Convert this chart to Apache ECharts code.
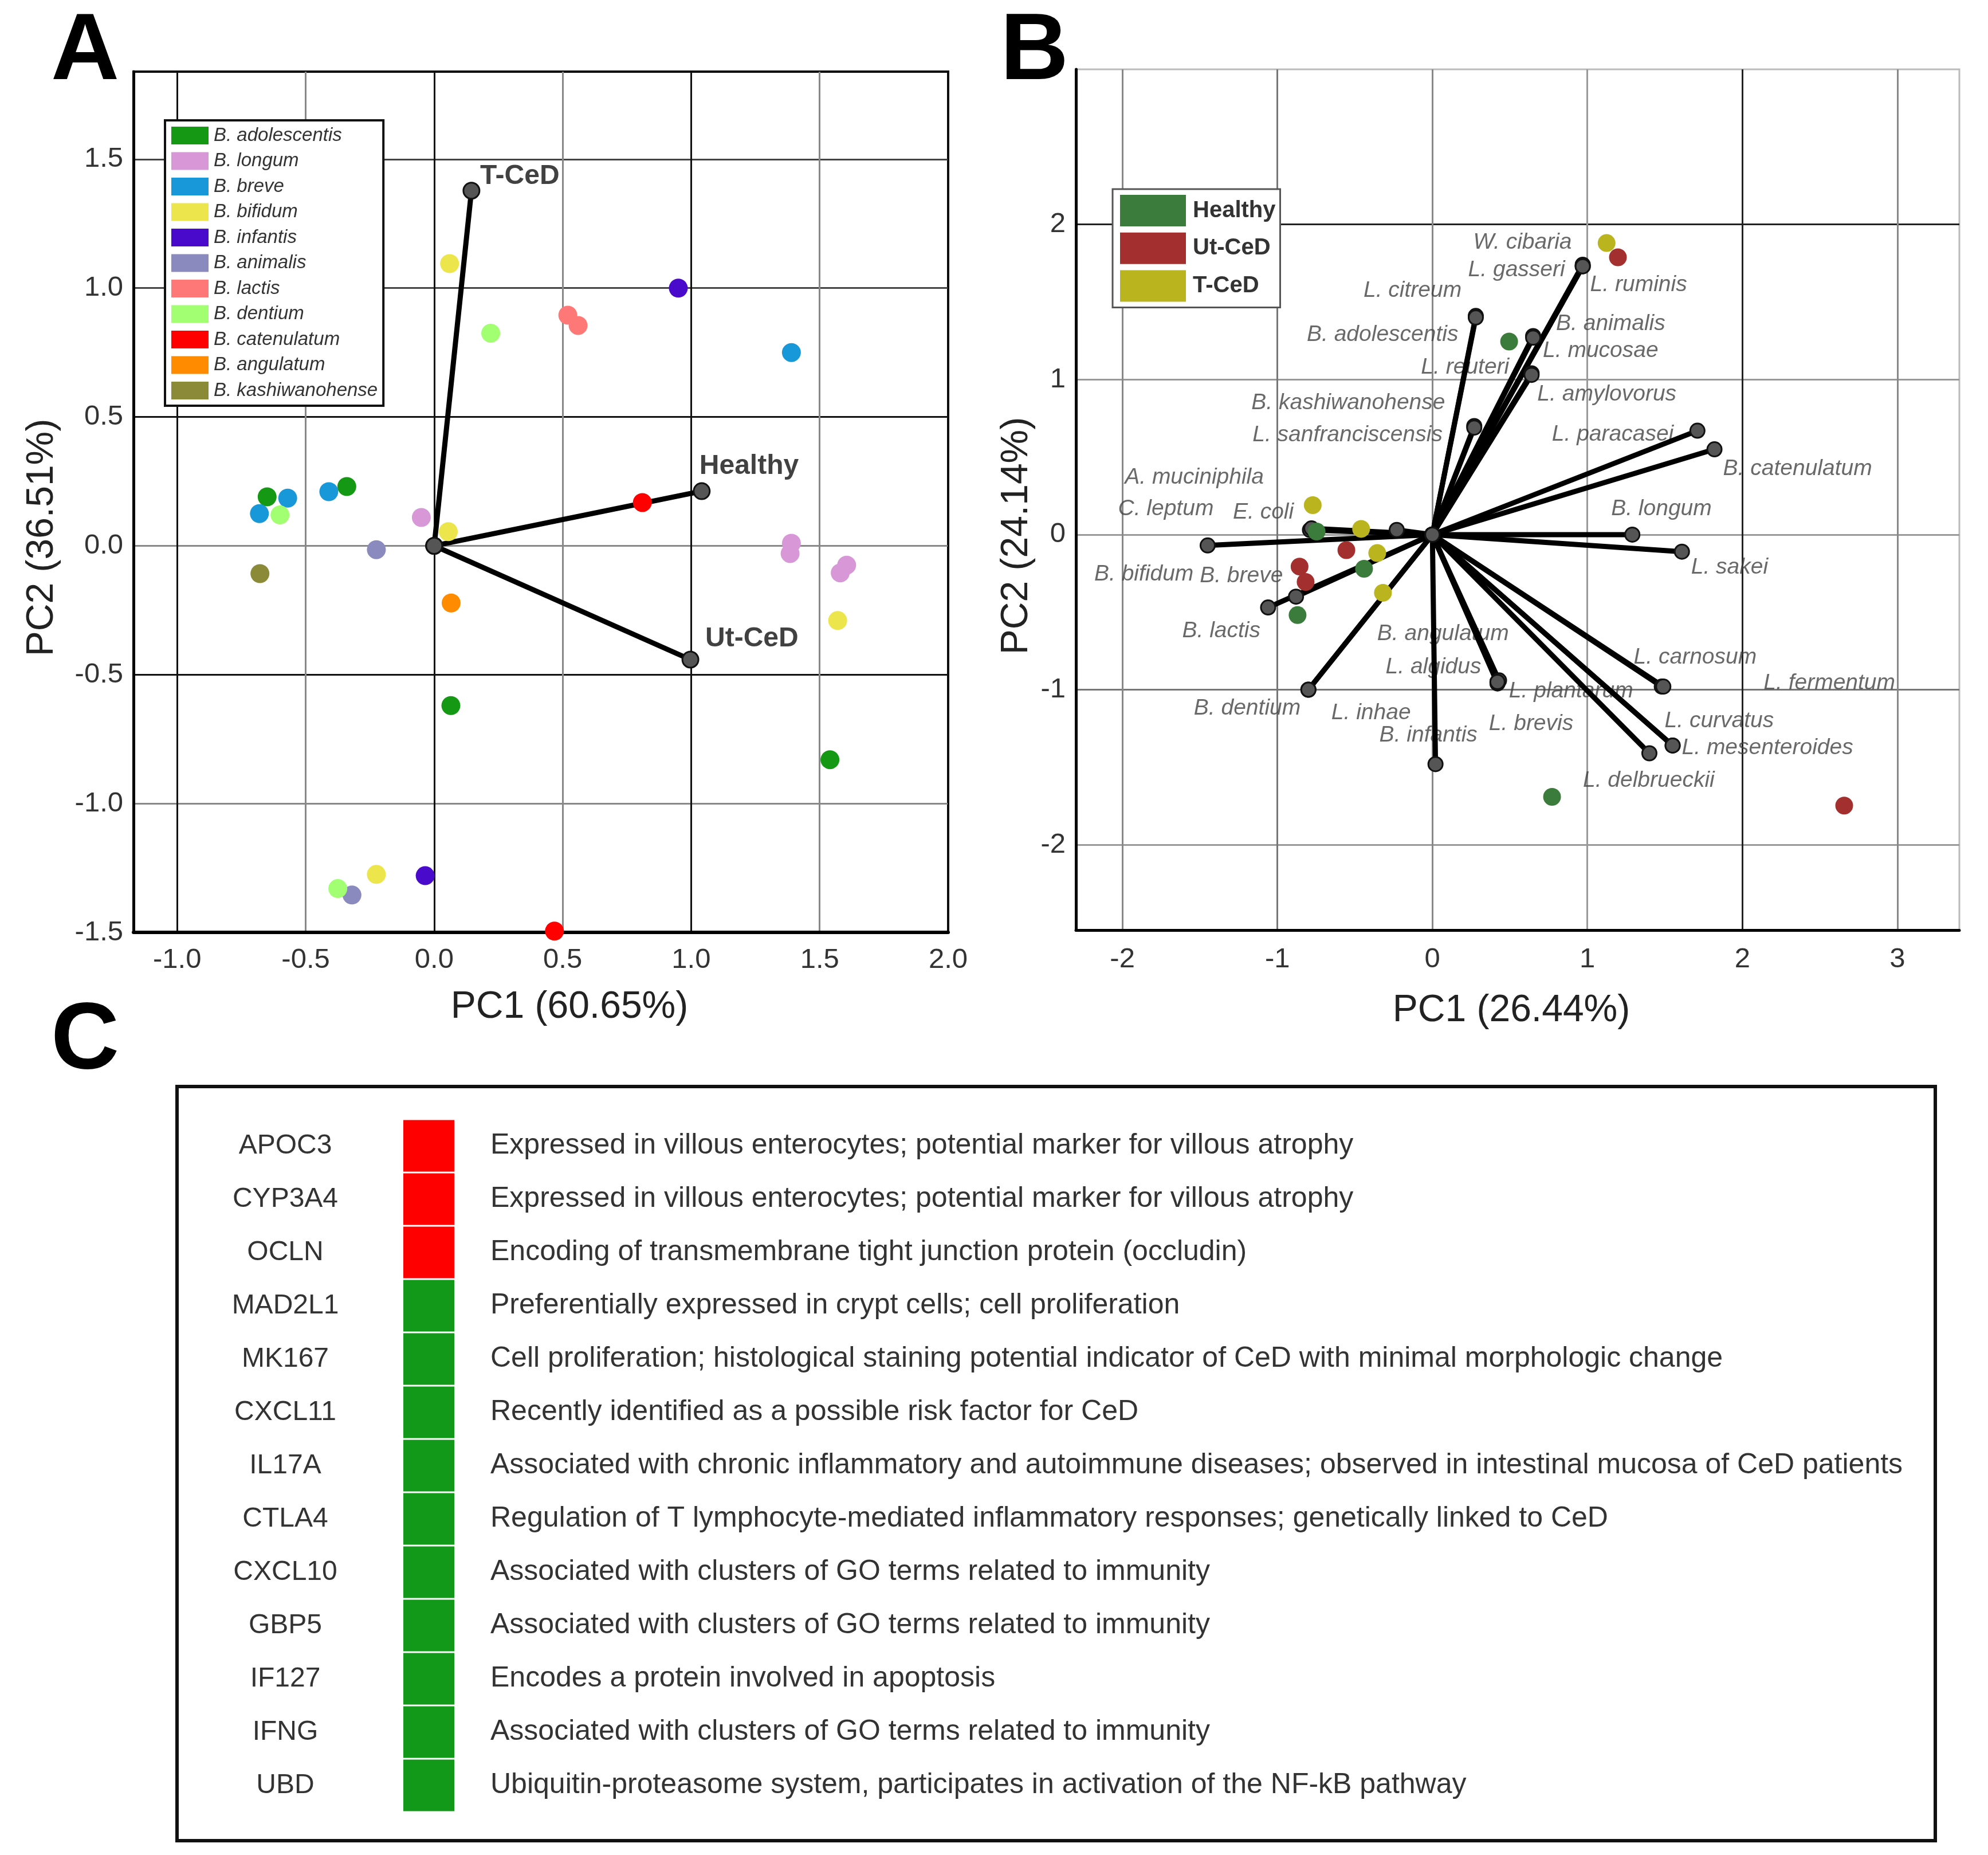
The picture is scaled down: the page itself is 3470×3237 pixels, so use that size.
<!DOCTYPE html>
<html><head><meta charset="utf-8">
<script src="https://cdn.jsdelivr.net/npm/echarts@6/dist/echarts.min.js"></script>
<style>html,body{margin:0;padding:0;background:#fff}#c{width:3470px;height:3237px}</style>
</head><body><div id="c"></div>
<script>
// ================= Panel A data =================
const speciesA = ['B. adolescentis','B. longum','B. breve','B. bifidum','B. infantis','B. animalis','B. lactis','B. dentium','B. catenulatum','B. angulatum','B. kashiwanohense'];
const ptsAdolescentis = [[-0.65,0.19],[-0.34,0.23],[0.065,-0.62],[1.54,-0.83]];
const ptsLongum = [[-0.05,0.11],[1.39,0.01],[1.385,-0.03],[1.605,-0.075],[1.58,-0.105]];
const ptsBreve = [[-0.57,0.185],[-0.68,0.125],[-0.41,0.21],[1.39,0.75]];
const ptsBifidum = [[0.06,1.095],[0.055,0.055],[1.57,-0.29],[-0.225,-1.275]];
const ptsInfantis = [[0.95,1.0],[-0.035,-1.28]];
const ptsAnimalis = [[-0.225,-0.015],[-0.32,-1.355]];
const ptsLactis = [[0.52,0.895],[0.56,0.855]];
const ptsDentium = [[0.22,0.825],[-0.60,0.12],[-0.375,-1.33]];
const ptsCatenulatum = [[0.81,0.168],[0.468,-1.495]];
const ptsAngulatum = [[0.066,-0.222]];
const ptsKashiwanohense = [[-0.678,-0.108]];
const pointsA = [ptsAdolescentis,ptsLongum,ptsBreve,ptsBifidum,ptsInfantis,ptsAnimalis,ptsLactis,ptsDentium,ptsCatenulatum,ptsAngulatum,ptsKashiwanohense];
const groupsA = ['Healthy','Ut-CeD','T-CeD'];
const loadingsA = [[1.041,0.212],[0.997,-0.4415],[0.145,1.378]];
const ticksAx = [-1,-0.5,0,0.5,1,1.5,2];
const ticksAy = [-1.5,-1,-0.5,0,0.5,1,1.5];

// ================= Panel B data =================
const taxaB = ['W. cibaria','L. gasseri','L. ruminis','L. citreum','B. adolescentis','B. animalis','L. mucosae','L. reuteri','L. amylovorus','B. kashiwanohense','L. sanfranciscensis','L. paracasei','B. catenulatum','B. longum','L. sakei','L. carnosum','L. fermentum','L. curvatus','L. mesenteroides','L. delbrueckii','L. plantarum','L. brevis','L. algidus','B. angulatum','B. infantis','L. inhae','B. dentium','B. lactis','B. breve','B. bifidum','C. leptum','E. coli','A. muciniphila'];
const loadingsB = [[0.97,1.74],[0.97,1.73],[0.97,1.73],[0.28,1.41],[0.28,1.40],[0.65,1.28],[0.65,1.27],[0.64,1.04],[0.64,1.03],[0.27,0.70],[0.27,0.69],[1.71,0.67],[1.82,0.55],[1.29,0.0],[1.61,-0.11],[1.48,-0.98],[1.49,-0.98],[1.55,-1.36],[1.55,-1.36],[1.40,-1.41],[0.42,-0.95],[0.42,-0.96],[0.43,-0.94],[0.42,-0.95],[0.02,-1.48],[-0.80,-1.0],[-0.80,-1.0],[-1.06,-0.47],[-0.88,-0.40],[-1.45,-0.07],[-0.79,0.03],[-0.23,0.03],[-0.78,0.04]];
const groupsB = ['Healthy','Ut-CeD','T-CeD'];
const samplesHealthy = [[0.495,1.245],[-0.747,0.02],[-0.441,-0.22],[-0.87,-0.519],[0.772,-1.691]];
const samplesUtCeD = [[1.197,1.788],[-0.555,-0.1],[-0.857,-0.206],[-0.818,-0.305],[2.657,-1.747]];
const samplesTCeD = [[1.124,1.88],[-0.772,0.19],[-0.46,0.037],[-0.356,-0.119],[-0.319,-0.375]];
const samplesB = [samplesHealthy,samplesUtCeD,samplesTCeD];
const ticksBx = [-2,-1,0,1,2,3];
const ticksBy = [-2,-1,0,1,2];

// ================= Panel C data =================
const genes = ['APOC3','CYP3A4','OCLN','MAD2L1','MK167','CXCL11','IL17A','CTLA4','CXCL10','GBP5','IF127','IFNG','UBD'];
const geneClass = [1,1,1,2,2,2,2,2,2,2,2,2,2];
const descriptions = [
 'Expressed in villous enterocytes; potential marker for villous atrophy',
 'Expressed in villous enterocytes; potential marker for villous atrophy',
 'Encoding of transmembrane tight junction protein (occludin)',
 'Preferentially expressed in crypt cells; cell proliferation',
 'Cell proliferation; histological staining potential indicator of CeD with minimal morphologic change',
 'Recently identified as a possible risk factor for CeD',
 'Associated with chronic inflammatory and autoimmune diseases; observed in intestinal mucosa of CeD patients',
 'Regulation of T lymphocyte-mediated inflammatory responses; genetically linked to CeD',
 'Associated with clusters of GO terms related to immunity',
 'Associated with clusters of GO terms related to immunity',
 'Encodes a protein involved in apoptosis',
 'Associated with clusters of GO terms related to immunity',
 'Ubiquitin-proteasome system, participates in activation of the NF-kB pathway'
];

// ================= Styles =================
const colorsA = ['#159915','#d898d8','#1898d8','#ece64c','#4a0acc','#8a8abf','#ff7878','#a2ff72','#ff0000','#ff8c00','#8a8a38'];
const colorsB = ['#3b7b3b','#a3302f','#bab41f'];
const classColor = {1:'#ff0000', 2:'#13991a'};
const labelOffsetA = {'Healthy':[-4,-43],'Ut-CeD':[26,-36],'T-CeD':[15,-25]};
const labelOffsetB = {
 'W. cibaria':[-191,-39],'L. gasseri':[-200,6],'L. ruminis':[13,32],'L. citreum':[-196,-44],
 'B. adolescentis':[-295,30],'B. animalis':[40,-21],'L. mucosae':[17,23],'L. reuteri':[-193,-10],
 'L. amylovorus':[10,34],'B. kashiwanohense':[-389,-40],'L. sanfranciscensis':[-387,13],
 'L. paracasei':[-254,7],'B. catenulatum':[15,34],'B. longum':[-37,-45],'L. sakei':[16,27],
 'L. carnosum':[-49,-51],'L. fermentum':[175,-6],'L. curvatus':[-14,-43],'L. mesenteroides':[16,4],
 'L. delbrueckii':[-116,48],'L. plantarum':[20,16],'L. brevis':[-15,70],'L. algidus':[-198,-23],
 'B. angulatum':[-210,-84],'B. infantis':[-98,-50],'L. inhae':[40,41],'B. dentium':[-200,33],
 'B. lactis':[-150,41],'B. breve':[-168,-36],'B. bifidum':[-198,50],'C. leptum':[-335,-37],
 'E. coli':[-286,-31],'A. muciniphila':[-326,-89]
};
const FONT = 'Liberation Sans, Arial, sans-serif';

const chart = echarts.init(document.getElementById('c'), null, {renderer:'canvas'});

function valAxis(grid, min, max, ticks, pos, colors, fmt, margin, lineW){
  return {
    type:'value', gridIndex:grid, min:min, max:max, position:pos,
    axisLine:{show:true, onZero:false, lineStyle:{color:'#000', width:lineW}},
    axisTick:{show:false, customValues:ticks},
    axisLabel:{customValues:ticks, formatter:fmt, fontSize:49, color:'#333', margin:margin, fontFamily:FONT},
    splitLine:{show:true, lineStyle:{color:colors, width:3}}
  };
}
const f1 = v => v.toFixed(1);
const f0 = v => String(v);

const series = [];
// Panel A scatter
speciesA.forEach((s,i)=>series.push({
  type:'scatter', name:s, xAxisIndex:0, yAxisIndex:0, data:pointsA[i],
  symbolSize:33, itemStyle:{color:colorsA[i], opacity:1}, z:4, clip:false
}));
// Panel A vectors
groupsA.forEach((g,i)=>series.push({
  type:'line', name:'A-vec-'+g, xAxisIndex:0, yAxisIndex:0, data:[[0,0],loadingsA[i]],
  symbol:'circle', symbolSize:28, showSymbol:true,
  lineStyle:{color:'#000', width:9}, itemStyle:{color:'#555', borderColor:'#111', borderWidth:3, opacity:1}, z:3
}));
series.push({
  type:'scatter', name:'A-vec-labels', xAxisIndex:0, yAxisIndex:0,
  data:groupsA.map((g,i)=>({value:loadingsA[i], name:g, label:{offset:labelOffsetA[g]}})),
  symbolSize:1, itemStyle:{color:'rgba(0,0,0,0)'}, z:6,
  label:{show:true, position:'inside', align:'left', verticalAlign:'middle', formatter:'{b}', fontSize:48, fontWeight:'bold', color:'#111', fontFamily:FONT}
});
// Panel B vectors
taxaB.forEach((t,i)=>series.push({
  type:'line', name:'B-vec-'+i, xAxisIndex:1, yAxisIndex:1, data:[[0,0],loadingsB[i]],
  symbol:'circle', symbolSize:25, showSymbol:true,
  lineStyle:{color:'#000', width:9}, itemStyle:{color:'#555', borderColor:'#111', borderWidth:3, opacity:1}, z:3
}));
series.push({
  type:'scatter', name:'B-vec-labels', xAxisIndex:1, yAxisIndex:1,
  data:taxaB.map((t,i)=>({value:loadingsB[i], name:t, label:{offset:labelOffsetB[t]}})),
  symbolSize:1, itemStyle:{color:'rgba(0,0,0,0)'}, z:2,
  label:{show:true, position:'inside', align:'left', verticalAlign:'middle', formatter:'{b}', fontSize:39, fontStyle:'italic', color:'#444', fontFamily:FONT}
});
// Panel B samples
groupsB.forEach((g,i)=>series.push({
  type:'scatter', name:g, xAxisIndex:1, yAxisIndex:1, data:samplesB[i],
  symbolSize:31, itemStyle:{color:colorsB[i], opacity:1}, z:5, clip:false
}));
// Panel C cells
series.push({
  type:'scatter', name:'C-cells', xAxisIndex:2, yAxisIndex:2,
  data:genes.map((g,i)=>({value:[0.5,g], itemStyle:{color:classColor[geneClass[i]], opacity:1}})),
  symbol:'rect', symbolSize:[89,90], clip:false, itemStyle:{opacity:1},
  label:{show:true, position:'right', distance:63, formatter:p=>descriptions[p.dataIndex], fontSize:50, color:'#333', fontFamily:FONT}
});

const option = {
  animation:false,
  backgroundColor:'#fff',
  textStyle:{fontFamily:FONT},
  grid:[
    {left:233, top:125, width:1422, height:1502, show:true, borderColor:'#000', borderWidth:4, backgroundColor:'transparent'},
    {left:1878, top:121, width:1542, height:1502, show:true, borderColor:'#bbb', borderWidth:3, backgroundColor:'transparent'},
    {left:704, top:1953, width:89, height:1209}
  ],
  xAxis:[
    valAxis(0,-1.17,2.0,ticksAx,'bottom',['#111','#888','#111','#888','#111','#888','#111'],f1,24,6),
    valAxis(1,-2.3,3.4,ticksBx,'bottom',['#888','#777','#888','#999','#222','#888'],f0,27,5),
    {type:'value', gridIndex:2, min:0, max:1, show:false}
  ],
  yAxis:[
    valAxis(0,-1.5,1.84,ticksAy,'left',['#111','#888','#111','#888','#111','#444','#444'],f1,18,5),
    valAxis(1,-2.55,3.0,ticksBy,'left',['#999','#777','#999','#999','#222'],f0,18,5),
    {type:'category', gridIndex:2, data:genes, inverse:true,
     axisLine:{show:false}, axisTick:{show:false}, splitLine:{show:false},
     axisLabel:{interval:0, margin:206, align:'center', fontSize:48, color:'#333', fontFamily:FONT}}
  ],
  legend:[
    {id:'legA', orient:'vertical', left:288, top:210, padding:[10,10,10,11],
     itemWidth:65, itemHeight:31, itemGap:11.5, icon:'rect', selectedMode:false,
     backgroundColor:'#fff', borderColor:'#111', borderWidth:4,
     data:speciesA, textStyle:{fontSize:33, fontStyle:'italic', color:'#333', lineHeight:31, padding:[0,0,0,4], fontFamily:FONT}},
    {id:'legB', orient:'vertical', left:1942, top:330, padding:[10,8,10,13],
     itemWidth:115, itemHeight:55, itemGap:10.7, icon:'rect', selectedMode:false,
     backgroundColor:'#fff', borderColor:'#555', borderWidth:3,
     data:groupsB, textStyle:{fontSize:40, fontWeight:'bold', color:'#333', lineHeight:55, padding:[0,0,0,7], fontFamily:FONT}}
  ],
  graphic:[
    {type:'text', x:89, y:92, style:{text:'A', font:'bold 165px '+FONT, fill:'#000', align:'left', verticalAlign:'middle', textAlign:'left', textVerticalAlign:'middle'}},
    {type:'text', x:1746, y:92, style:{text:'B', font:'bold 165px '+FONT, fill:'#000', align:'left', verticalAlign:'middle', textAlign:'left', textVerticalAlign:'middle'}},
    {type:'text', x:89, y:1818, style:{text:'C', font:'bold 165px '+FONT, fill:'#000', align:'left', verticalAlign:'middle', textAlign:'left', textVerticalAlign:'middle'}},
    {type:'text', x:994, y:1758, style:{text:'PC1 (60.65%)', font:'66px '+FONT, fill:'#222', align:'center', verticalAlign:'middle', textAlign:'center', textVerticalAlign:'middle'}},
    {type:'text', x:74, y:938, rotation:Math.PI/2, style:{text:'PC2 (36.51%)', font:'66px '+FONT, fill:'#222', align:'center', verticalAlign:'middle', textAlign:'center', textVerticalAlign:'middle'}},
    {type:'text', x:2638, y:1764, style:{text:'PC1 (26.44%)', font:'66px '+FONT, fill:'#222', align:'center', verticalAlign:'middle', textAlign:'center', textVerticalAlign:'middle'}},
    {type:'text', x:1775, y:935, rotation:Math.PI/2, style:{text:'PC2 (24.14%)', font:'66px '+FONT, fill:'#222', align:'center', verticalAlign:'middle', textAlign:'center', textVerticalAlign:'middle'}},
    {type:'rect', shape:{x:309, y:1896, width:3069, height:1316}, style:{fill:'none', stroke:'#111', lineWidth:6}, z:-1}
  ],
  series:series
};
chart.setOption(option);
</script></body></html>
